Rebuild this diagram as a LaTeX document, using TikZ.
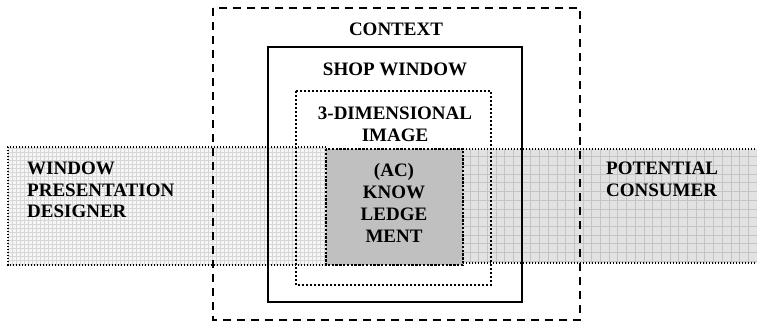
\documentclass[tikz,border=0pt]{standalone}
\usepackage{fontspec}
\setmainfont{Liberation Serif}
\definecolor{acfill}{RGB}{192,192,192}
\definecolor{rbandfill}{RGB}{226,226,226}
\definecolor{rgrid}{RGB}{196,196,196}
\definecolor{lbandfill}{RGB}{246,246,246}
\definecolor{lgrid}{RGB}{214,214,214}
\tikzset{
  lbl/.style={font=\fontsize{19}{22}\selectfont\bfseries, inner sep=0pt, align=center},
  lbll/.style={font=\fontsize{19}{21.5}\selectfont\bfseries, inner sep=0pt, align=left, anchor=north west},
  ctxbox/.style={line width=1.5pt, dash pattern=on 8pt off 6pt},
  shopbox/.style={line width=1.3pt},
  imgbox/.style={line width=1.6pt, dash pattern=on 1.6pt off 2.4pt},
  bandline/.style={line width=1.4pt, dash pattern=on 1.4pt off 1.6pt},
  acbox/.style={line width=2.2pt, dash pattern=on 2.4pt off 1.4pt, fill=acfill},
}
\begin{document}
\begin{tikzpicture}[x=1pt,y=-1pt]
\useasboundingbox (0,0) rectangle (757,325);
% left band
\fill[lbandfill] (8,147) rectangle (326,265);
\begin{scope}
\clip (8,147) rectangle (326,265);
\draw[lgrid, line width=0.35pt, step=4pt] (8,147) grid (330,270);
\end{scope}
\draw[bandline] (326,147) -- (8,147) -- (8,265) -- (326,265);
% right band
\fill[rbandfill] (463,149) rectangle (760,263);
\begin{scope}
\clip (463,149) rectangle (760,263);
\draw[rgrid, line width=0.45pt, step=8.7pt] (460,140) grid (770,270);
\end{scope}
\draw[bandline] (463,149) -- (760,149);
\draw[bandline] (463,263) -- (760,263);
% boxes
\draw[ctxbox] (213,8) rectangle (580,320);
\draw[shopbox] (268,47) rectangle (522,302);
\draw[imgbox] (296,91) rectangle (491,285);
\draw[acbox] (326,149) rectangle (463,265);
% labels
\node[lbl] (context) at (396,29) {CONTEXT};
\node[lbl] (shop) at (395,69) {SHOP WINDOW};
\node[lbl] (image) at (395,124) {3-DIMENSIONAL\\IMAGE};
\node[lbl] (ac) at (394,203) {(AC)\\KNOW\\LEDGE\\MENT};
\node[lbll] (designer) at (27,162) {WINDOW\\PRESENTATION\\DESIGNER};
\node[lbll] (consumer) at (606,162) {POTENTIAL\\CONSUMER};
\end{tikzpicture}
\end{document}
